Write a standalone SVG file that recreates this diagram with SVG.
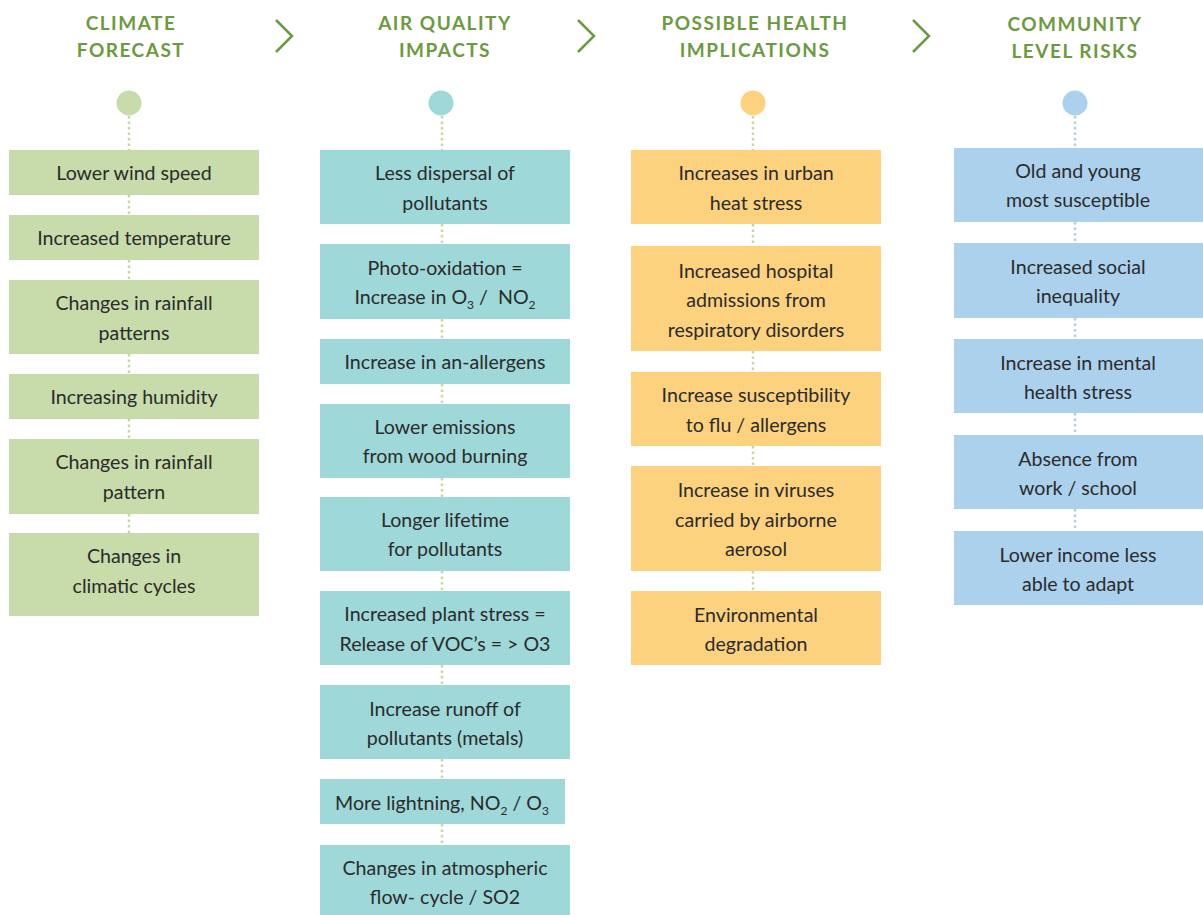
<svg xmlns="http://www.w3.org/2000/svg" width="1203" height="915" viewBox="0 0 1203 915">
<style>
.hd{font-family:Lato,"Open Sans",sans-serif;font-size:19px;font-weight:bold;fill:#6b9a40;letter-spacing:1.5px;text-anchor:middle}
.t{font-family:Lato,"Open Sans",sans-serif;font-size:19.6px;fill:#2b2b2b;text-anchor:middle}
.g{fill:#c8dbaa}.c{fill:#9fd8d8}.o{fill:#fdd27e}.b{fill:#acd1ed}
.dg{stroke:#c3d9a4;stroke-width:2.5;stroke-dasharray:2.5 3;fill:none}
.db{stroke:#acd1ed;stroke-width:2.5;stroke-dasharray:2.5 3;fill:none}
.ch{stroke:#6b9a40;stroke-width:2.5;fill:none}
.sub{font-size:12px}
</style>
<g id="headers">
<text class="hd" x="131" y="30">CLIMATE</text><text class="hd" x="131" y="57">FORECAST</text>
<text class="hd" x="445" y="30">AIR QUALITY</text><text class="hd" x="445" y="57">IMPACTS</text>
<text class="hd" x="755" y="30">POSSIBLE HEALTH</text><text class="hd" x="755" y="57">IMPLICATIONS</text>
<text class="hd" x="1075" y="31">COMMUNITY</text><text class="hd" x="1075" y="58">LEVEL RISKS</text>
<polyline class="ch" points="276,20 292,36 276,52"/>
<polyline class="ch" points="578,20 594,36 578,52"/>
<polyline class="ch" points="913,20 929,36 913,52"/>
</g>
<g id="connectors">
<line class="dg" x1="129" y1="116" x2="129" y2="150"/>
<line class="dg" x1="129" y1="195" x2="129" y2="215"/>
<line class="dg" x1="129" y1="260" x2="129" y2="280"/>
<line class="dg" x1="129" y1="354" x2="129" y2="374"/>
<line class="dg" x1="129" y1="419" x2="129" y2="439"/>
<line class="dg" x1="129" y1="514" x2="129" y2="533"/>
<line class="dg" x1="442" y1="116" x2="442" y2="150"/>
<line class="dg" x1="442" y1="224" x2="442" y2="244"/>
<line class="dg" x1="442" y1="319" x2="442" y2="339"/>
<line class="dg" x1="442" y1="384" x2="442" y2="404"/>
<line class="dg" x1="442" y1="478" x2="442" y2="497"/>
<line class="dg" x1="442" y1="571" x2="442" y2="591"/>
<line class="dg" x1="442" y1="665" x2="442" y2="685"/>
<line class="dg" x1="442" y1="759" x2="442" y2="779"/>
<line class="dg" x1="442" y1="824" x2="442" y2="845"/>
<line class="dg" x1="753" y1="116" x2="753" y2="150"/>
<line class="dg" x1="753" y1="224" x2="753" y2="246"/>
<line class="dg" x1="753" y1="351" x2="753" y2="372"/>
<line class="dg" x1="753" y1="446" x2="753" y2="466"/>
<line class="dg" x1="753" y1="571" x2="753" y2="591"/>
<line class="db" x1="1075" y1="116" x2="1075" y2="148"/>
<line class="db" x1="1075" y1="222" x2="1075" y2="243"/>
<line class="db" x1="1075" y1="318" x2="1075" y2="339"/>
<line class="db" x1="1075" y1="413" x2="1075" y2="435"/>
<line class="db" x1="1075" y1="509" x2="1075" y2="531"/>
</g>
<g id="dots">
<circle class="g" cx="129" cy="103" r="12.5"/>
<circle class="c" cx="441" cy="103" r="12.5"/>
<circle class="o" cx="753" cy="103" r="12.5"/>
<circle class="b" cx="1075" cy="103" r="12.5"/>
</g>
<g id="c1-1"><rect class="g" x="9" y="150" width="250" height="45"/><text class="t" x="134" y="180">Lower wind speed</text></g>
<g id="c1-2"><rect class="g" x="9" y="215" width="250" height="45"/><text class="t" x="134" y="245">Increased temperature</text></g>
<g id="c1-3"><rect class="g" x="9" y="280" width="250" height="74"/><text class="t" x="134" y="310">Changes in rainfall</text><text class="t" x="134" y="340">patterns</text></g>
<g id="c1-4"><rect class="g" x="9" y="374" width="250" height="45"/><text class="t" x="134" y="404">Increasing humidity</text></g>
<g id="c1-5"><rect class="g" x="9" y="439" width="250" height="75"/><text class="t" x="134" y="469">Changes in rainfall</text><text class="t" x="134" y="499">pattern</text></g>
<g id="c1-6"><rect class="g" x="9" y="533" width="250" height="83"/><text class="t" x="134" y="563">Changes in</text><text class="t" x="134" y="593">climatic cycles</text></g>

<g id="c2-1"><rect class="c" x="320" y="150" width="250" height="74"/><text class="t" x="445" y="180">Less dispersal of</text><text class="t" x="445" y="210">pollutants</text></g>
<g id="c2-2"><rect class="c" x="320" y="244" width="250" height="75"/><text class="t" x="445" y="275">Photo-oxidation =</text><text class="t" x="445" y="304">Increase in O<tspan class="sub" dy="5">3</tspan><tspan dy="-5"> /&#160; NO</tspan><tspan class="sub" dy="5">2</tspan></text></g>
<g id="c2-3"><rect class="c" x="320" y="339" width="250" height="45"/><text class="t" x="445" y="369">Increase in an-allergens</text></g>
<g id="c2-4"><rect class="c" x="320" y="404" width="250" height="74"/><text class="t" x="445" y="434">Lower emissions</text><text class="t" x="445" y="463">from wood burning</text></g>
<g id="c2-5"><rect class="c" x="320" y="497" width="250" height="74"/><text class="t" x="445" y="527">Longer lifetime</text><text class="t" x="445" y="556">for pollutants</text></g>
<g id="c2-6"><rect class="c" x="320" y="591" width="250" height="74"/><text class="t" x="445" y="621">Increased plant stress =</text><text class="t" x="445" y="651">Release of VOC’s = &gt; O3</text></g>
<g id="c2-7"><rect class="c" x="320" y="685" width="250" height="74"/><text class="t" x="445" y="716">Increase runoff of</text><text class="t" x="445" y="745">pollutants (metals)</text></g>
<g id="c2-8"><rect class="c" x="320" y="779" width="245" height="45"/><text class="t" x="442" y="810">More lightning, NO<tspan class="sub" dy="5">2</tspan><tspan dy="-5"> / O</tspan><tspan class="sub" dy="5">3</tspan></text></g>
<g id="c2-9"><rect class="c" x="320" y="845" width="250" height="70"/><text class="t" x="445" y="875">Changes in atmospheric</text><text class="t" x="445" y="904">flow- cycle / SO2</text></g>

<g id="c3-1"><rect class="o" x="631" y="150" width="250" height="74"/><text class="t" x="756" y="180">Increases in urban</text><text class="t" x="756" y="210">heat stress</text></g>
<g id="c3-2"><rect class="o" x="631" y="246" width="250" height="105"/><text class="t" x="756" y="278">Increased hospital</text><text class="t" x="756" y="307">admissions from</text><text class="t" x="756" y="337">respiratory disorders</text></g>
<g id="c3-3"><rect class="o" x="631" y="372" width="250" height="74"/><text class="t" x="756" y="402">Increase susceptibility</text><text class="t" x="756" y="432">to flu / allergens</text></g>
<g id="c3-4"><rect class="o" x="631" y="466" width="250" height="105"/><text class="t" x="756" y="497">Increase in viruses</text><text class="t" x="756" y="527">carried by airborne</text><text class="t" x="756" y="556">aerosol</text></g>
<g id="c3-5"><rect class="o" x="631" y="591" width="250" height="74"/><text class="t" x="756" y="622">Environmental</text><text class="t" x="756" y="651">degradation</text></g>

<g id="c4-1"><rect class="b" x="954" y="148" width="249" height="74"/><text class="t" x="1078" y="178">Old and young</text><text class="t" x="1078" y="207">most susceptible</text></g>
<g id="c4-2"><rect class="b" x="954" y="243" width="249" height="75"/><text class="t" x="1078" y="274">Increased social</text><text class="t" x="1078" y="303">inequality</text></g>
<g id="c4-3"><rect class="b" x="954" y="339" width="249" height="74"/><text class="t" x="1078" y="370">Increase in mental</text><text class="t" x="1078" y="399">health stress</text></g>
<g id="c4-4"><rect class="b" x="954" y="435" width="249" height="74"/><text class="t" x="1078" y="466">Absence from</text><text class="t" x="1078" y="495">work / school</text></g>
<g id="c4-5"><rect class="b" x="954" y="531" width="249" height="74"/><text class="t" x="1078" y="562">Lower income less</text><text class="t" x="1078" y="591">able to adapt</text></g>
</svg>
